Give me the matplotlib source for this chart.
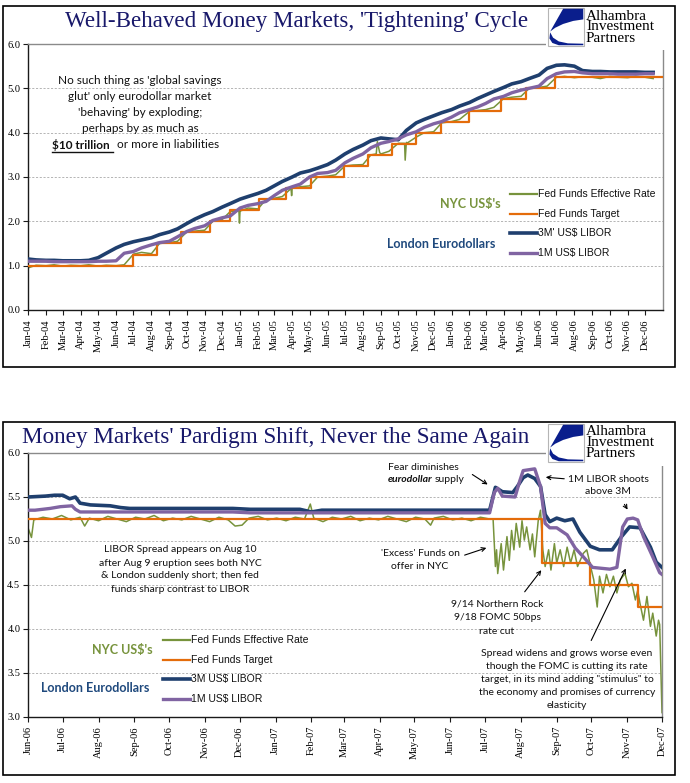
import matplotlib
matplotlib.use("Agg")
import matplotlib.pyplot as plt
import matplotlib.dates as mdates
from matplotlib.patches import Rectangle, Polygon, FancyArrowPatch
from matplotlib.lines import Line2D
import pandas as pd

W, H = 690, 783

GREEN = "#77933C"
ORANGE = "#E46C0A"
NAVY = "#1F3F6E"
PURPLE = "#8064A2"
TITLE_BLUE = "#18186A"
LOGO_BLUE = "#0A1E8C"
SERIF = ["Liberation Serif", "DejaVu Serif"]
SANS = ["Lato", "DejaVu Sans"]
ARIAL = ["Liberation Sans", "DejaVu Sans"]

# ---- panel 1: Jan 2004 - Dec 2006, read on the 1st and 15th of each month
top_start = "2004-01-01"
top_libor3m = [1.15, 1.13, 1.12, 1.12, 1.11, 1.11, 1.11, 1.12, 1.18, 1.28, 1.40, 1.48,
               1.54, 1.58, 1.63, 1.70, 1.76, 1.83, 1.95, 2.05, 2.15, 2.22, 2.32, 2.40,
               2.50, 2.56, 2.63, 2.70, 2.80, 2.90, 3.00, 3.09, 3.14, 3.20, 3.28, 3.38,
               3.52, 3.62, 3.72, 3.82, 3.88, 3.86, 3.84, 4.05, 4.22, 4.30, 4.38, 4.45,
               4.52, 4.60, 4.68, 4.77, 4.85, 4.93, 5.02, 5.10, 5.15, 5.22, 5.30, 5.45,
               5.52, 5.53, 5.50, 5.40, 5.38, 5.38, 5.37, 5.37, 5.37, 5.37, 5.36, 5.36]
top_libor1m = [1.10, 1.10, 1.10, 1.09, 1.09, 1.09, 1.09, 1.09, 1.10, 1.10, 1.11, 1.28,
               1.32, 1.40, 1.47, 1.52, 1.55, 1.65, 1.77, 1.84, 1.90, 2.02, 2.08, 2.12,
               2.30, 2.36, 2.40, 2.45, 2.58, 2.70, 2.78, 2.84, 3.00, 3.08, 3.10, 3.15,
               3.32, 3.42, 3.52, 3.66, 3.76, 3.80, 3.86, 3.95, 4.02, 4.12, 4.20, 4.25,
               4.35, 4.45, 4.52, 4.58, 4.66, 4.76, 4.82, 4.90, 4.96, 5.00, 5.05, 5.22,
               5.33, 5.37, 5.38, 5.35, 5.33, 5.33, 5.33, 5.32, 5.32, 5.32, 5.33, 5.33]
top_eff = [0.95, 1.01, 1.00, 1.02, 0.99, 1.01, 1.00, 1.02, 0.99, 1.01, 1.00, 1.02,
           1.26, 1.30, 1.27, 1.50, 1.52, 1.55, 1.76, 1.78, 1.80, 2.00, 2.04, 2.22,
           2.25, 2.30, 2.28, 2.50, 2.52, 2.56, 2.75, 2.78, 2.80, 3.00, 3.02, 3.05,
           3.25, 3.27, 3.28, 3.50, 3.52, 3.58, 3.76, 3.78, 3.90, 4.00, 4.02, 4.22,
           4.25, 4.30, 4.48, 4.50, 4.52, 4.57, 4.77, 4.80, 4.82, 5.00, 5.02, 5.05,
           5.25, 5.27, 5.24, 5.26, 5.25, 5.22, 5.27, 5.25, 5.24, 5.27, 5.25, 5.22]
# one-day dislocations in the effective rate
top_eff_spike_dates = ["2004-12-30", "2004-12-31", "2005-01-03",
                       "2005-03-30", "2005-03-31", "2005-04-04",
                       "2005-08-24", "2005-08-26", "2005-08-30",
                       "2005-10-12", "2005-10-13", "2005-10-17"]
top_eff_spike_vals = [2.24, 1.96, 2.24,
                      2.74, 2.58, 2.76,
                      3.52, 3.80, 3.55,
                      3.76, 3.38, 3.77]
top_target_dates = ["2004-01-01", "2004-06-30", "2004-08-10", "2004-09-21", "2004-11-10",
                    "2004-12-14", "2005-02-02", "2005-03-22", "2005-05-03", "2005-06-30",
                    "2005-08-09", "2005-09-20", "2005-11-01", "2005-12-13", "2006-01-31",
                    "2006-03-28", "2006-05-10", "2006-06-29", "2006-12-31"]
top_target = [1.00, 1.25, 1.50, 1.75, 2.00, 2.25, 2.50, 2.75, 3.00, 3.25,
              3.50, 3.75, 4.00, 4.25, 4.50, 4.75, 5.00, 5.25, 5.25]

# ---- panel 2: Jun 2006 - Dec 2007, x = days after 1 Jun 2006 (as plotted)
bot_start = "2006-06-01"
bot_libor3m_days = [0, 15, 23, 30, 36, 41, 45, 54, 71, 80, 88, 177, 192, 235, 245, 254, 350,
                    399, 404, 410, 419, 423, 428, 432, 438, 443, 447, 451, 457, 464, 471,
                    477, 486, 494, 505, 513, 520, 529, 538, 543, 548]
bot_libor3m = [5.50, 5.51, 5.52, 5.52, 5.48, 5.50, 5.43, 5.41, 5.40, 5.38, 5.37, 5.37, 5.36,
               5.36, 5.33, 5.35, 5.35, 5.35, 5.61, 5.56, 5.55, 5.62, 5.72, 5.75, 5.71, 5.62,
               5.30, 5.22, 5.26, 5.23, 5.25, 5.10, 4.94, 4.90, 4.90, 5.05, 5.16, 5.15, 4.93,
               4.76, 4.70]
bot_libor1m_days = [0, 6, 19, 28, 38, 41, 45, 177, 192, 399, 403, 406, 410, 421, 425, 428,
                    438, 443, 447, 451, 457, 466, 473, 480, 488, 503, 509, 514, 518, 523,
                    527, 532, 540, 546, 548]
bot_libor1m = [5.35, 5.35, 5.37, 5.39, 5.40, 5.36, 5.33, 5.33, 5.32, 5.32, 5.55, 5.60, 5.51,
               5.50, 5.68, 5.80, 5.82, 5.62, 5.20, 5.15, 5.15, 5.07, 4.92, 4.82, 4.70, 4.68,
               4.70, 5.16, 5.25, 5.26, 5.24, 5.05, 4.82, 4.64, 4.62]
bot_target_days = [0, 444, 486, 527, 548]
bot_target = [5.25, 4.75, 4.50, 4.25, 4.25]
bot_eff_days = [0, 3, 5, 13, 21, 29, 37, 45, 49, 53, 61, 69, 77, 85, 93, 101, 109, 117, 125,
                133, 141, 149, 157, 165, 173, 179, 185, 191, 199, 207, 215, 223, 231, 239,
                244, 247, 255, 263, 271, 279, 287, 295, 303, 311, 319, 327, 335, 343, 348,
                351, 359, 367, 375, 383, 391, 399,
                402, 404, 405, 406, 409, 411, 414, 416, 418, 420, 422, 425, 427, 429, 431,
                434, 436, 438, 441, 443, 445, 447, 450, 452, 455, 457, 460, 463, 466, 469,
                472, 475, 480, 483, 487, 489, 492, 494, 497, 500, 503, 506, 509, 512, 516,
                519, 522, 525, 527, 529, 532, 535, 538, 540, 543, 545, 546, 548]
bot_eff = [5.15, 5.04, 5.24, 5.27, 5.25, 5.29, 5.24, 5.27, 5.17, 5.26, 5.23, 5.28, 5.25, 5.22,
           5.27, 5.25, 5.29, 5.23, 5.26, 5.24, 5.28, 5.25, 5.22, 5.27, 5.24, 5.17, 5.18, 5.26,
           5.28, 5.24, 5.26, 5.23, 5.27, 5.25, 5.42, 5.26, 5.22, 5.27, 5.25, 5.28, 5.23, 5.26,
           5.24, 5.28, 5.25, 5.22, 5.27, 5.25, 5.18, 5.26, 5.28, 5.24, 5.26, 5.23, 5.27, 5.25,
           5.25, 4.71, 4.90, 4.63, 4.97, 4.67, 5.05, 4.78, 5.12, 4.90, 5.20, 4.93, 5.23, 5.01,
           5.16, 4.90, 5.08, 4.82, 5.23, 5.35, 4.90, 4.71, 4.90, 4.67, 4.97, 4.75, 4.90, 4.71,
           4.93, 4.75, 4.90, 4.71, 4.86, 4.90, 4.67, 4.56, 4.25, 4.60, 4.41, 4.62, 4.48, 4.60,
           4.41, 4.56, 4.63, 4.48, 4.52, 4.33, 4.44, 4.29, 4.10, 4.37, 4.03, 4.18, 3.92, 4.10,
           4.05, 3.05]


def px(x, y):
    return x / W, 1 - y / H


def days_to_dates(days):
    return pd.Timestamp(bot_start) + pd.to_timedelta(days, unit="D")


fig = plt.figure(figsize=(W / 100, H / 100), dpi=100)
fig.patch.set_facecolor("white")


def make_axes(left, top, right, bottom):
    x0, y1 = px(left, top)
    x1, y0 = px(right, bottom)
    ax = fig.add_axes([x0, y0, x1 - x0, y1 - y0])
    for side in ("left", "bottom"):
        ax.spines[side].set_color("#1a1a1a")
        ax.spines[side].set_linewidth(1.0)
    for side in ("top", "right"):
        ax.spines[side].set_color("#8a8a8a")
        ax.spines[side].set_linewidth(1.0)
    ax.xaxis.set_major_formatter(mdates.DateFormatter("%b-%y"))
    ax.tick_params(axis="both", direction="out", length=3.5, width=0.8, color="#1a1a1a",
                   labelsize=7.5, pad=2)
    ax.tick_params(axis="x", labelrotation=90, pad=3)
    ax.grid(axis="y", color="#a8a8a8", lw=0.6, ls=(0, (2.5, 2)))
    ax.set_axisbelow(True)
    return ax


def style_ticks(ax):
    for lab in ax.get_xticklabels() + ax.get_yticklabels():
        lab.set_family(SERIF)
        lab.set_fontsize(7.5)


def draw_series(ax, eff_x, eff_y, tgt_x, tgt_y, l3_x, l3_y, l1_x, l1_y):
    ax.plot(eff_x, eff_y, color=GREEN, lw=1.1, zorder=2)
    ax.plot(tgt_x, tgt_y, color=ORANGE, lw=1.6, drawstyle="steps-post", zorder=3)
    ax.plot(l3_x, l3_y, color=NAVY, lw=2.6, zorder=4)
    ax.plot(l1_x, l1_y, color=PURPLE, lw=2.4, zorder=5)


def ftext(x, y, s, **kw):
    fx, fy = px(x, y)
    return fig.text(fx, fy, s, **kw)


def note(xc, y0, step, lines, size=7.5):
    for i, line in enumerate(lines):
        ftext(xc, y0 + i * step, line, ha="center", va="center", fontsize=size,
              family=SANS, color="#111111")


def arrow(x0, y0, x1, y1):
    fig.add_artist(FancyArrowPatch(px(x0, y0), px(x1, y1), transform=fig.transFigure,
                                   arrowstyle="->", mutation_scale=7, lw=0.8, color="black"))


def legend(x, y0, step, labels, colors, widths):
    for i, (lab, col, lw) in enumerate(zip(labels, colors, widths)):
        y = y0 + i * step
        a, b = px(x, y)
        c, _ = px(x + 27, y)
        fig.add_artist(Line2D([a, c], [b, b], transform=fig.transFigure, color=col, lw=lw))
        ftext(x + 28, y, lab, ha="left", va="center", fontsize=7.5, family=ARIAL,
              color="#111111")


def logo(x, y):
    # white cover, box with swoosh, and the firm name
    a, b = px(x - 2, y + 42)
    fig.add_artist(Rectangle((a, b), 128 / W, 44 / H, transform=fig.transFigure,
                             facecolor="white", edgecolor="none", zorder=5))
    bw, bh = 36, 38
    a, b = px(x, y + bh)
    fig.add_artist(Rectangle((a, b), bw / W, bh / H, transform=fig.transFigure,
                             facecolor="white", edgecolor="#b5b5b5", lw=0.8, zorder=6))
    upper = [(0.42, 0.02), (0.98, 0.02), (0.98, 0.30), (0.70, 0.34), (0.42, 0.42),
             (0.20, 0.52), (0.06, 0.62)]
    lower = [(0.06, 0.64), (0.14, 0.78), (0.30, 0.88), (0.55, 0.93), (0.98, 0.94),
             (0.98, 0.98), (0.30, 0.98), (0.12, 0.92), (0.04, 0.80)]
    for shape in (upper, lower):
        pts = [px(x + u * bw, y + v * bh) for u, v in shape]
        fig.add_artist(Polygon(pts, closed=True, transform=fig.transFigure,
                               facecolor=LOGO_BLUE, edgecolor="none", zorder=7))
    ftext(x + bw + 2, y + 19, "Alhambra\nInvestment\nPartners", ha="left", va="center",
          fontsize=11, linespacing=0.8, family=SERIF, color="black", zorder=7)


def frame(top, bottom):
    a, b = px(3, bottom)
    fig.add_artist(Rectangle((a, b), 672 / W, (bottom - top) / H, transform=fig.transFigure,
                             facecolor="none", edgecolor="black", lw=1.2, zorder=8))


# ---------------- top panel ----------------
ax1 = make_axes(28, 44, 663, 310)
top_dates = pd.date_range(top_start, periods=len(top_libor3m), freq="SMS")
eff_top = pd.Series(top_eff, index=top_dates)
eff_top = pd.concat([eff_top, pd.Series(top_eff_spike_vals,
                                        index=pd.to_datetime(top_eff_spike_dates))]).sort_index()
draw_series(ax1, eff_top.index, eff_top.values,
            pd.to_datetime(top_target_dates), top_target,
            top_dates, top_libor3m, top_dates, top_libor1m)
ax1.set_xlim(pd.Timestamp("2004-01-01"), pd.Timestamp("2007-01-01"))
ax1.set_xticks(pd.date_range("2004-01-01", "2006-12-01", freq="MS"))
ax1.set_ylim(0, 6)
ax1.set_yticks([0, 1, 2, 3, 4, 5, 6])
ax1.yaxis.set_major_formatter(matplotlib.ticker.FormatStrFormatter("%.1f"))
ax1.xaxis.set_major_formatter(mdates.DateFormatter("%b-%y"))
style_ticks(ax1)

# ---------------- bottom panel ----------------
ax2 = make_axes(28, 453, 662, 717)
draw_series(ax2, days_to_dates(bot_eff_days), bot_eff,
            days_to_dates(bot_target_days), bot_target,
            days_to_dates(bot_libor3m_days), bot_libor3m,
            days_to_dates(bot_libor1m_days), bot_libor1m)
ax2.set_xlim(pd.Timestamp("2006-06-01"), pd.Timestamp("2007-12-01"))
ax2.set_xticks(pd.date_range("2006-06-01", "2007-12-01", freq="MS"))
ax2.set_ylim(3.0, 6.0)
ax2.set_yticks([3.0, 3.5, 4.0, 4.5, 5.0, 5.5, 6.0])
ax2.yaxis.set_major_formatter(matplotlib.ticker.FormatStrFormatter("%.1f"))
ax2.xaxis.set_major_formatter(mdates.DateFormatter("%b-%y"))
style_ticks(ax2)

# ---------------- titles, logos, frames ----------------
ftext(297, 21, "Well-Behaved Money Markets, 'Tightening' Cycle", ha="center", va="center",
      fontsize=16.6, family=SERIF, color=TITLE_BLUE)
ftext(276, 437, "Money Markets' Pardigm Shift, Never the Same Again", ha="center",
      va="center", fontsize=16.7, family=SERIF, color=TITLE_BLUE)
logo(548, 8)
logo(548, 424)
frame(6, 367)
frame(422, 775)

# ---------------- top annotations and legend ----------------
note(140, 80, 16.3, ["No such thing as 'global savings", "glut' only eurodollar market",
                     "'behaving' by exploding;", "perhaps by as much as"], size=8.5)
bold = ftext(52, 145, "\\$10 trillion", ha="left", va="center", fontsize=8.5, family=SANS,
             weight="bold", color="#111111")
ftext(117, 145, "or more in liabilities", ha="left", va="center", fontsize=8.5, family=SANS,
      color="#111111")
fig.canvas.draw()
bb = bold.get_window_extent(fig.canvas.get_renderer())
fig.add_artist(Line2D([bb.x0 / W, (bb.x1 + 3) / W], [(bb.y0 - 0.5) / H, (bb.y0 - 0.5) / H],
                      transform=fig.transFigure, color="#111111", lw=1.0))

legend(510, 194, 19.7, ["Fed Funds Effective Rate", "Fed Funds Target", "3M' US\\$ LIBOR",
                        "1M US\\$ LIBOR"], [GREEN, ORANGE, NAVY, PURPLE], [1.6, 1.6, 2.6, 2.4])
ftext(470, 204, "NYC US\\$'s", ha="center", va="center", fontsize=9, family=SANS,
      weight="bold", color=GREEN)
ftext(441, 244, "London Eurodollars", ha="center", va="center", fontsize=9, family=SANS,
      weight="bold", color="#1F497D")

# ---------------- bottom annotations and legend ----------------
note(180, 550, 13, ["LIBOR Spread appears on Aug 10", "after Aug 9 eruption sees both NYC",
                    "& London suddenly short; then fed", "funds sharp contrast to LIBOR"])
ftext(423, 467, "Fear diminishes", ha="center", va="center", fontsize=7.5, family=SANS,
      color="#111111")
ftext(432, 480, "eurodollar", ha="right", va="center", fontsize=7.5, family=SANS,
      weight="bold", style="italic", color="#111111")
ftext(435, 480, "supply", ha="left", va="center", fontsize=7.5, family=SANS, color="#111111")
arrow(470, 473, 490, 486)
note(608, 479, 13, ["1M LIBOR shoots", "above 3M"])
arrow(567, 479, 543, 477)
arrow(623, 502, 629, 512)
note(420, 553, 13.5, ["'Excess' Funds on", "offer in NYC"])
arrow(462, 556, 489, 547)
note(497, 604, 13.5, ["9/14 Northern Rock", "9/18 FOMC 50bps", "rate cut"])
arrow(523, 594, 543, 568)
note(567, 654, 12.8, ["Spread widens and grows worse even",
                      "though the FOMC is cutting its rate",
                      "target, in its mind adding \"stimulus\" to",
                      "the economy and promises of currency", "elasticity"])
arrow(590, 643, 627, 566)

legend(163, 640, 19.7, ["Fed Funds Effective Rate", "Fed Funds Target", "3M US\\$ LIBOR",
                        "1M US\\$ LIBOR"], [GREEN, ORANGE, NAVY, PURPLE], [1.6, 1.6, 2.6, 2.4])
ftext(122, 650, "NYC US\\$'s", ha="center", va="center", fontsize=9, family=SANS,
      weight="bold", color=GREEN)
ftext(95, 688, "London Eurodollars", ha="center", va="center", fontsize=9, family=SANS,
      weight="bold", color="#1F497D")

fig.savefig("out.png", dpi=100, facecolor="white")
